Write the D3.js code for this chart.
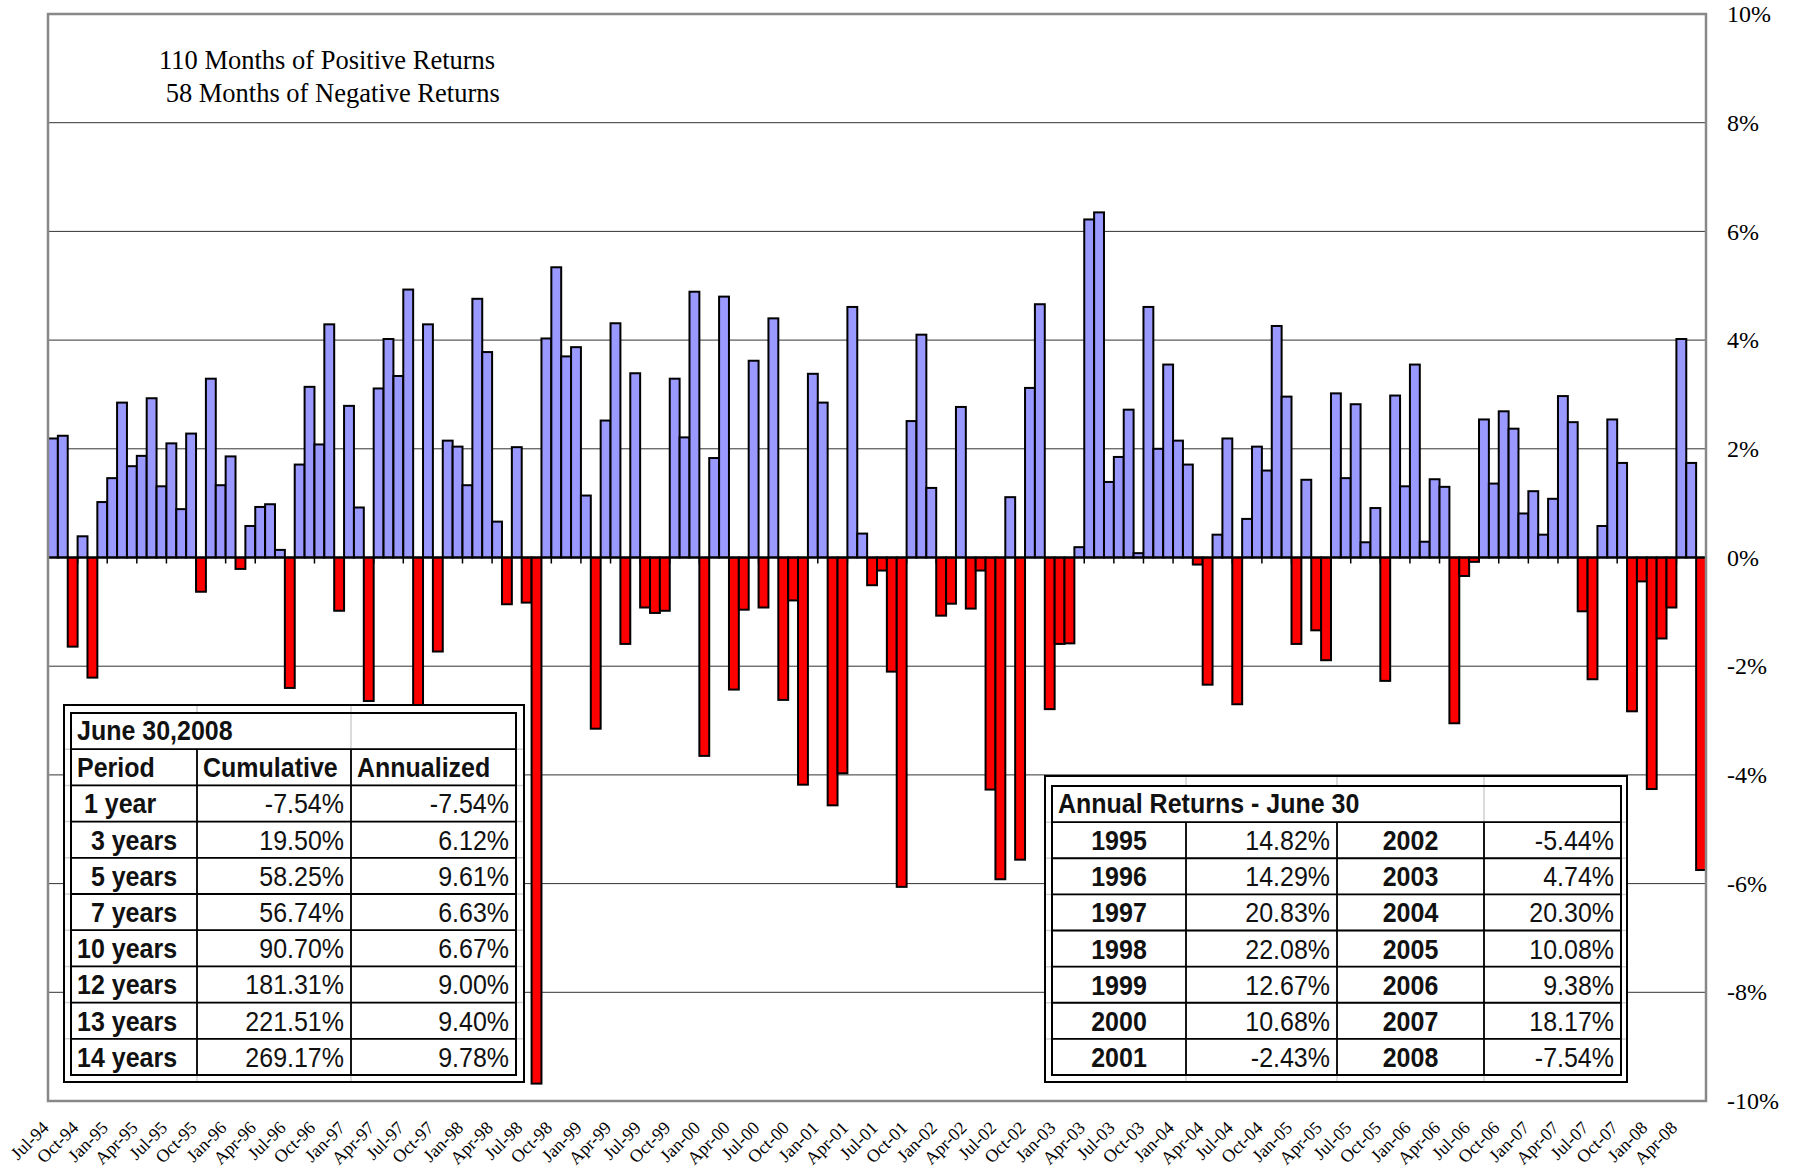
<!DOCTYPE html>
<html>
<head>
<meta charset="utf-8">
<script src="https://cdn.jsdelivr.net/npm/d3@7"></script>
<style>
  body { margin: 0; background: #fff; }
  svg text { white-space: pre; }
</style>
</head>
<body>
<svg id="chart" width="1797" height="1175"></svg>
<script>
// monthly returns (%), Jul-94 .. Jun-08
const returns = [
  2.19, 2.24, -1.64, 0.39, -2.21, 1.02, 1.46, 2.85, 1.68, 1.87, 2.93, 1.31,
  2.10, 0.89, 2.28, -0.63, 3.29, 1.33, 1.86, -0.21, 0.58, 0.93, 0.98, 0.14,
  -2.40, 1.71, 3.14, 2.08, 4.29, -0.98, 2.79, 0.92, -2.64, 3.11, 4.02, 3.34,
  4.93, -2.90, 4.29, -1.73, 2.15, 2.04, 1.33, 4.76, 3.78, 0.66, -0.86, 2.03,
  -0.83, -9.68, 4.03, 5.34, 3.70, 3.87, 1.14, -3.15, 2.52, 4.31, -1.59, 3.39,
  -0.92, -1.02, -0.98, 3.29, 2.21, 4.89, -3.65, 1.83, 4.80, -2.43, -0.96, 3.62,
  -0.92, 4.40, -2.62, -0.79, -4.18, 3.38, 2.85, -4.56, -3.97, 4.61, 0.44, -0.51,
  -0.24, -2.10, -6.06, 2.51, 4.10, 1.28, -1.07, -0.85, 2.77, -0.94, -0.24, -4.27,
  -5.92, 1.11, -5.56, 3.12, 4.66, -2.79, -1.59, -1.58, 0.19, 6.22, 6.35, 1.39,
  1.85, 2.72, 0.08, 4.61, 2.00, 3.55, 2.15, 1.71, -0.13, -2.34, 0.42, 2.19,
  -2.70, 0.71, 2.04, 1.60, 4.26, 2.96, -1.59, 1.43, -1.34, -1.89, 3.02, 1.46,
  2.82, 0.28, 0.91, -2.27, 2.98, 1.31, 3.55, 0.29, 1.44, 1.30, -3.05, -0.34,
  -0.08, 2.54, 1.36, 2.69, 2.37, 0.81, 1.22, 0.42, 1.08, 2.97, 2.49, -0.99,
  -2.24, 0.58, 2.54, 1.74, -2.83, -0.44, -4.26, -1.49, -0.92, 4.02, 1.74, -5.75
];
const months = d3.timeMonth.range(new Date(1994, 6, 1), new Date(2008, 6, 1));
const yTicks = [10, 8, 6, 4, 2, 0, -2, -4, -6, -8, -10];
const headline = ["110 Months of Positive Returns", " 58 Months of Negative Returns"];

// summary table
const summaryTitle = "June 30,2008";
const summaryHead = ["Period", "Cumulative", "Annualized"];
const periods = [" 1 year", "  3 years", "  5 years", "  7 years", "10 years", "12 years", "13 years", "14 years"];
const cumulative = ["-7.54%", "19.50%", "58.25%", "56.74%", "90.70%", "181.31%", "221.51%", "269.17%"];
const annualized = ["-7.54%", "6.12%", "9.61%", "6.63%", "6.67%", "9.00%", "9.40%", "9.78%"];

// annual returns table
const annualTitle = "Annual Returns - June 30";
const yearsLeft = ["1995", "1996", "1997", "1998", "1999", "2000", "2001"];
const returnsLeft = ["14.82%", "14.29%", "20.83%", "22.08%", "12.67%", "10.68%", "-2.43%"];
const yearsRight = ["2002", "2003", "2004", "2005", "2006", "2007", "2008"];
const returnsRight = ["-5.44%", "4.74%", "20.30%", "10.08%", "9.38%", "18.17%", "-7.54%"];

const svg = d3.select("#chart");
const plot = {left: 48, right: 1706, top: 14, bottom: 1101};
const serif = "'Liberation Serif', 'Times New Roman', serif";
const sans = "'Liberation Sans', Arial, sans-serif";

const x = d3.scaleBand().domain(months).range([plot.left, plot.right]).padding(0);
const y = d3.scaleLinear().domain([-10, 10]).range([plot.bottom, plot.top]);

// gridlines
svg.append("g").selectAll("line")
  .data(yTicks.filter(d => d !== 0))
  .join("line")
  .attr("x1", plot.left).attr("x2", plot.right)
  .attr("y1", d => y(d)).attr("y2", d => y(d))
  .attr("stroke", "#333").attr("stroke-width", 1);

// small ticks under the zero line, every 3 months
svg.append("g").selectAll("line")
  .data(months.filter((d, i) => i % 3 === 0 && i > 0))
  .join("line")
  .attr("x1", d => x(d)).attr("x2", d => x(d))
  .attr("y1", y(0)).attr("y2", y(0) + 6)
  .attr("stroke", "#000").attr("stroke-width", 1.5);

// bars
svg.append("g").selectAll("rect")
  .data(returns)
  .join("rect")
  .attr("x", (d, i) => x(months[i]))
  .attr("width", x.bandwidth())
  .attr("y", d => y(Math.max(0, d)))
  .attr("height", d => Math.abs(y(d) - y(0)))
  .attr("fill", d => d >= 0 ? "#9999FF" : "#FF0000")
  .attr("stroke", "#000").attr("stroke-width", 2);

// zero line
svg.append("line")
  .attr("x1", plot.left).attr("x2", plot.right)
  .attr("y1", y(0)).attr("y2", y(0))
  .attr("stroke", "#000").attr("stroke-width", 2);

// plot border
svg.append("rect")
  .attr("x", plot.left).attr("y", plot.top)
  .attr("width", plot.right - plot.left).attr("height", plot.bottom - plot.top)
  .attr("fill", "none").attr("stroke", "#888").attr("stroke-width", 2.5);

// right value axis
const yAxis = svg.append("g")
  .attr("transform", `translate(${plot.right},0)`)
  .call(d3.axisRight(y).tickValues(yTicks).tickFormat(d => d + "%").tickSize(0).tickPadding(21));
yAxis.select(".domain").remove();
yAxis.selectAll("text")
  .style("font-family", serif).style("font-size", "24px").attr("fill", "#000");

// month labels
const fmt = d3.timeFormat("%b-%y");
const xAxis = svg.append("g")
  .attr("transform", `translate(0,${plot.bottom})`)
  .call(d3.axisBottom(x).tickValues(months.filter((d, i) => i % 3 === 0)).tickFormat(fmt).tickSize(0));
xAxis.select(".domain").remove();
xAxis.selectAll("text")
  .attr("x", -3).attr("y", 28).attr("dy", null)
  .attr("transform", "rotate(-45,-3,28)")
  .style("text-anchor", "end")
  .style("font-family", serif).style("font-size", "18px").attr("fill", "#000");

// headline text
svg.append("g").selectAll("text")
  .data(headline)
  .join("text")
  .attr("x", 159).attr("y", (d, i) => 69 + i * 33)
  .style("font-family", serif).style("font-size", "26.5px")
  .text(d => d);

// table helper
function drawTable(box, cols, rowCount, titleText, cells) {
  const g = svg.append("g");
  const rowH = (box.inner.bottom - box.inner.top) / rowCount;
  const rows = d3.range(rowCount + 1).map(i => box.inner.top + i * rowH);

  g.append("rect")
    .attr("x", box.outer.left).attr("y", box.outer.top)
    .attr("width", box.outer.right - box.outer.left).attr("height", box.outer.bottom - box.outer.top)
    .attr("fill", "#fff").attr("stroke", "#000").attr("stroke-width", 2);

  // sheet gridlines peeking through
  const lastCol = cols[cols.length - 2];
  g.append("g").selectAll("line")
    .data(cols.slice(1, -1))
    .join("line")
    .attr("x1", d => d).attr("x2", d => d)
    .attr("y1", box.outer.top + 1).attr("y2", box.outer.bottom - 1)
    .attr("stroke", "#cfcfcf").attr("stroke-width", 1.5);
  g.append("g").selectAll("line")
    .data(rows.slice(1, -1))
    .join("line")
    .attr("x1", box.outer.left + 1).attr("x2", box.outer.right - 1)
    .attr("y1", d => d).attr("y2", d => d)
    .attr("stroke", "#cfcfcf").attr("stroke-width", 1.5);
  // title text overflows into neighbour cells, so blank those gridlines
  g.append("rect")
    .attr("x", cols[0] + 1).attr("y", rows[0] + 1)
    .attr("width", lastCol - cols[0] - 3).attr("height", rowH - 2)
    .attr("fill", "#fff");

  // black cell borders
  g.append("rect")
    .attr("x", box.inner.left).attr("y", box.inner.top)
    .attr("width", box.inner.right - box.inner.left).attr("height", box.inner.bottom - box.inner.top)
    .attr("fill", "none").attr("stroke", "#000").attr("stroke-width", 2);
  g.append("g").selectAll("line")
    .data(rows.slice(1, -1))
    .join("line")
    .attr("x1", box.inner.left).attr("x2", box.inner.right)
    .attr("y1", d => d).attr("y2", d => d)
    .attr("stroke", "#000").attr("stroke-width", 1.8);
  g.append("g").selectAll("line")
    .data(cols.slice(1, -1))
    .join("line")
    .attr("x1", d => d).attr("x2", d => d)
    .attr("y1", rows[1]).attr("y2", box.inner.bottom)
    .attr("stroke", "#000").attr("stroke-width", 1.8);

  const put = (t, px, py, anchor, bold) => g.append("text")
    .attr("transform", `translate(${px},${py}) scale(1,1.12)`)
    .style("text-anchor", anchor)
    .style("font-family", sans).style("font-size", "25px")
    .style("font-weight", bold ? "bold" : "normal")
    .attr("fill", "#111")
    .text(t);

  put(titleText, cols[0] + 6, rows[0] + 27, "start", true);
  cells.forEach(c => {
    const top = rows[c.row];
    let px;
    if (c.align === "start") px = cols[c.col] + 6;
    else if (c.align === "end") px = cols[c.col + 1] - 7;
    else px = (cols[c.col] + cols[c.col + 1]) / 2;
    put(c.text, px, top + 28, c.align, c.bold);
  });
}

// summary table cells
const summaryCells = [];
summaryHead.forEach((t, j) => summaryCells.push({row: 1, col: j, text: t, align: "start", bold: true}));
periods.forEach((p, i) => {
  summaryCells.push({row: i + 2, col: 0, text: p, align: "start", bold: true});
  summaryCells.push({row: i + 2, col: 1, text: cumulative[i], align: "end", bold: false});
  summaryCells.push({row: i + 2, col: 2, text: annualized[i], align: "end", bold: false});
});
drawTable(
  {outer: {left: 64, top: 705, right: 524, bottom: 1082}, inner: {left: 71, top: 713, right: 516, bottom: 1075}},
  [71, 197, 351, 516], 10, summaryTitle, summaryCells);

// annual table cells
const annualCells = [];
yearsLeft.forEach((yr, i) => {
  annualCells.push({row: i + 1, col: 0, text: yr, align: "middle", bold: true});
  annualCells.push({row: i + 1, col: 1, text: returnsLeft[i], align: "end", bold: false});
  annualCells.push({row: i + 1, col: 2, text: yearsRight[i], align: "middle", bold: true});
  annualCells.push({row: i + 1, col: 3, text: returnsRight[i], align: "end", bold: false});
});
drawTable(
  {outer: {left: 1045, top: 776, right: 1627, bottom: 1082}, inner: {left: 1052, top: 786, right: 1621, bottom: 1075}},
  [1052, 1186, 1337, 1484, 1621], 8, annualTitle, annualCells);
</script>
</body>
</html>
